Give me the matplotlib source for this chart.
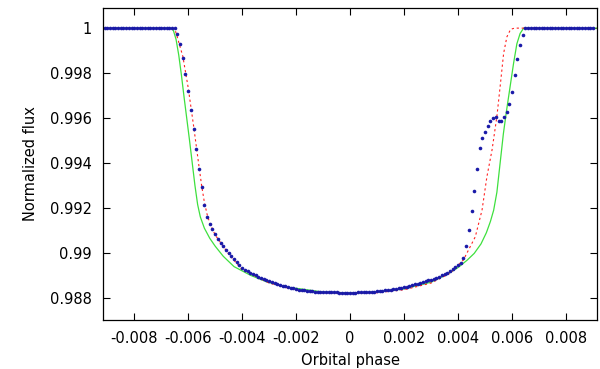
import numpy as np
from matplotlib import pyplot as plt

plt.rcParams['font.family'] = ['DejaVu Sans']
plt.rcParams['axes.unicode_minus'] = False

# observed light curve, sampled every 0.0001 in phase
phase_step = 0.0001
flat_left = [1.0] * 26    # -0.0091 .. -0.0066
ingress = [
    1.00000, 0.99973, 0.99928, 0.99868, 0.99797, 0.99721, 0.99636, 0.99551,
    0.99462, 0.99373, 0.99292, 0.99215, 0.99161, 0.99129, 0.99105, 0.99083,
    0.99061, 0.99044, 0.99030, 0.99015, 0.99000, 0.98986, 0.98972, 0.98959,
    0.98947, 0.98935, 0.98925, 0.98918, 0.98912, 0.98906, 0.98900, 0.98895,
    0.98889, 0.98884, 0.98879, 0.98874, 0.98870, 0.98866, 0.98862, 0.98858,
    0.98855, 0.98851, 0.98848, 0.98845, 0.98842, 0.98839, 0.98837, 0.98835,
    0.98833, 0.98831, 0.98830, 0.98829, 0.98828, 0.98827, 0.98826, 0.98826,
    0.98825, 0.98825, 0.98824, 0.98824, 0.98824, 0.98823, 0.98823, 0.98823,
    0.98823,
]  # -0.0065 .. -0.0001
egress = [
    0.98823,
    0.98823, 0.98823, 0.98824, 0.98824, 0.98825, 0.98825, 0.98826, 0.98827,
    0.98828, 0.98829, 0.98830, 0.98831, 0.98833, 0.98835, 0.98837, 0.98839,
    0.98840, 0.98842, 0.98844, 0.98847, 0.98850, 0.98853, 0.98856, 0.98860,
    0.98863, 0.98866, 0.98870, 0.98874, 0.98879, 0.98879, 0.98884, 0.98889,
    0.98894, 0.98900, 0.98906, 0.98912, 0.98919, 0.98927, 0.98936, 0.98946,
    0.98957, 0.98976, 0.99032, 0.99102, 0.99187, 0.99277, 0.99372, 0.99465,
    0.99511, 0.99539, 0.99563, 0.99585, 0.99600, 0.99603, 0.99587, 0.99587,
    0.99603, 0.99625, 0.99662, 0.99714, 0.99790, 0.99861, 0.99923, 0.99970,
    1.00000,
]  # 0.0000 .. 0.0066
flat_right = [1.0] * 25   # 0.0067 .. 0.0091

obs_flux = np.array(flat_left + ingress + egress + flat_right)
obs_phase = (np.arange(len(obs_flux)) - 91) * phase_step

# model 1 (red dotted)
red_phase = [-0.0092, -0.0066, -0.00648, -0.0064, -0.0062, -0.0060, -0.0058,
             -0.0056, -0.0055, -0.0054, -0.0053, -0.0052, -0.0050, -0.0045,
             -0.0040, -0.0030, -0.0020, -0.0010, 0.0, 0.0010, 0.0020, 0.0030,
             0.0037, 0.0042, 0.00464, 0.00489, 0.00507, 0.00526, 0.00544,
             0.00556, 0.00569, 0.00581, 0.00595, 0.0061, 0.0092]
red_flux = [1.0, 1.0, 0.99990, 0.99958, 0.99875, 0.99735, 0.99565,
            0.99385, 0.99298, 0.99225, 0.99172, 0.99132, 0.99080, 0.98995,
            0.98925, 0.98866, 0.98834, 0.98822, 0.98820, 0.98823, 0.98836, 0.98866,
            0.98909, 0.98969, 0.99072, 0.99191, 0.99339, 0.99458, 0.99607,
            0.99740, 0.99888, 0.99961, 0.99995, 1.0, 1.0]

# model 2 (green solid)
green_phase = [-0.0092, -0.00664, -0.00655, -0.00645, -0.00635, -0.00625,
               -0.00615, -0.00605, -0.00595, -0.00585, -0.00575, -0.00565,
               -0.00555, -0.00540, -0.00520, -0.00500, -0.00470, -0.00430,
               -0.00368, -0.00306, -0.00232, -0.0010, 0.0, 0.0010, 0.0020,
               0.0030, 0.00360, 0.00400, 0.00433, 0.00460, 0.00485, 0.00505,
               0.00520, 0.00532, 0.00544, 0.00556, 0.00568, 0.00580, 0.00593,
               0.00606, 0.00618, 0.00630, 0.00643, 0.0092]
green_flux = [1.0, 1.0, 0.99990, 0.99950, 0.99880, 0.99790,
              0.99690, 0.99595, 0.99500, 0.99400, 0.99300, 0.99215,
              0.99160, 0.99110, 0.99065, 0.99030, 0.98985, 0.98939,
              0.98900, 0.98870, 0.98848, 0.98826, 0.98822, 0.98826, 0.98840,
              0.98870, 0.98905, 0.98935, 0.98967, 0.98998, 0.99040, 0.99090,
              0.99140, 0.99190, 0.99270, 0.99400, 0.99530, 0.99635, 0.99740,
              0.99845, 0.99930, 0.99976, 1.0, 1.0]

fig = plt.figure(figsize=(6.0, 3.69), dpi=100)
ax = fig.add_axes([0.172, 0.133, 0.823, 0.845])

ax.plot(green_phase, green_flux, color='#3ee03e', lw=0.9)
ax.plot(red_phase, red_flux, color='#ff2020', lw=0.8, linestyle=(0, (2, 2.5)))
ax.plot(obs_phase, obs_flux, 'o', color='#1a1aa8', ms=2.6, mew=0)

ax.set_xlim(-0.00915, 0.00915)
ax.set_ylim(0.98702, 1.00089)

xticks = [-0.008, -0.006, -0.004, -0.002, 0, 0.002, 0.004, 0.006, 0.008]
xlabels = ['-0.008', '-0.006', '-0.004', '-0.002', '0', '0.002', '0.004', '0.006', '0.008']
yticks = [0.988, 0.99, 0.992, 0.994, 0.996, 0.998, 1.0]
ylabels = ['0.988', '0.99', '0.992', '0.994', '0.996', '0.998', '1']
ax.set_xticks(xticks)
ax.set_xticklabels(xlabels)
ax.set_yticks(yticks)
ax.set_yticklabels(ylabels)

ax.tick_params(direction='in', length=5, width=0.8, top=True, right=True,
               labelsize=10.5, pad=8)
for s in ax.spines.values():
    s.set_linewidth(0.9)

ax.set_xlabel('Orbital phase', fontsize=10.5, labelpad=5)
ax.set_ylabel('Normalized flux', fontsize=10.5, labelpad=9)

fig.savefig('out.png', dpi=100)
